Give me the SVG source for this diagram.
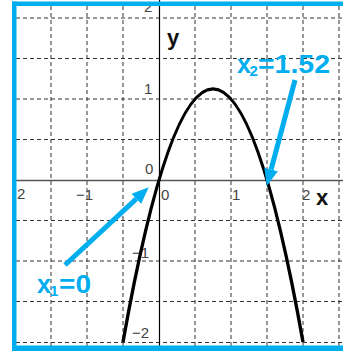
<svg xmlns="http://www.w3.org/2000/svg" width="343" height="351" viewBox="0 0 343 351">
<style>
.grid{stroke:#333;stroke-width:1;stroke-dasharray:4 3;fill:none}
.tick{font-family:"Liberation Sans",Arial,sans-serif;font-size:15px;fill:#444}
.axlab{font-family:"Liberation Sans",Arial,sans-serif;font-size:22px;font-weight:bold;fill:#111}
.blue{font-family:"Liberation Sans",Arial,sans-serif;font-weight:bold;fill:#00aeef}
.arrow{stroke:#00aeef;stroke-width:5;fill:none}
.border{fill:#00aeef}
</style>
<defs>
<marker id="ah" markerUnits="userSpaceOnUse" markerWidth="18" markerHeight="16" refX="0" refY="8" orient="auto">
<path d="M0,1 L17,8 L0,15 Z" fill="#00aeef"/>
</marker>
</defs>
<rect width="343" height="351" fill="#fff"/>
<g id="grid">
<path class="grid" d="M51,6V346M87,6V346M123,6V346M195,6V346M231,6V346M267,6V346M303,6V346M339,6V346"/>
<path class="grid" d="M16,18H343M16,58.5H343M16,99H343M16,139.5H343M16,220.5H343M16,261H343M16,301.5H343M16,342.5H343"/>
</g>
<g id="axes">
<line x1="159.5" y1="0" x2="159.5" y2="351" stroke="#000" stroke-width="1.2"/>
<line x1="16" y1="180.5" x2="343" y2="180.5" stroke="#555" stroke-width="1.6"/>
</g>
<g id="tick-labels">
<text class="tick" x="144" y="12">2</text>
<text class="tick" x="144" y="94">1</text>
<text class="tick" x="145" y="174">0</text>
<text class="tick" x="132" y="258">−1</text>
<text class="tick" x="132" y="338">−2</text>
<text class="tick" x="17" y="199">2</text>
<text class="tick" x="76" y="200">−1</text>
<text class="tick" x="161" y="200">0</text>
<text class="tick" x="232" y="200">1</text>
<text class="tick" x="302" y="200">2</text>
</g>
<g id="axis-names">
<text class="axlab" x="167" y="45">y</text>
<text class="axlab" x="316" y="205">x</text>
</g>
<g id="curve">
<path d="M123,342 Q213,-164.25 303,342" fill="none" stroke="#000" stroke-width="3.4"/>
</g>
<g id="connectors">
<line class="arrow" x1="65" y1="265" x2="136.3" y2="198.9" marker-end="url(#ah)"/>
<line class="arrow" x1="295" y1="80" x2="271.1" y2="169.5" marker-end="url(#ah)"/>
</g>
<g id="label-x2">
<text class="blue" x="237" y="73" font-size="25">x</text>
<text class="blue" x="249.5" y="76" font-size="15">2</text>
<text class="blue" x="258" y="73" font-size="25" textLength="72" lengthAdjust="spacingAndGlyphs">=1.52</text>
</g>
<g id="label-x1">
<text class="blue" x="37" y="293" font-size="25">x</text>
<text class="blue" x="50" y="296" font-size="15">1</text>
<text class="blue" x="59" y="293" font-size="25" textLength="32" lengthAdjust="spacingAndGlyphs">=0</text>
</g>
<g id="frame">
<rect class="border" x="12" y="1.5" width="331" height="4.5"/>
<rect class="border" x="12" y="1.5" width="4.5" height="349.5"/>
<rect class="border" x="12" y="345.5" width="331" height="5.5"/>
</g>
</svg>
